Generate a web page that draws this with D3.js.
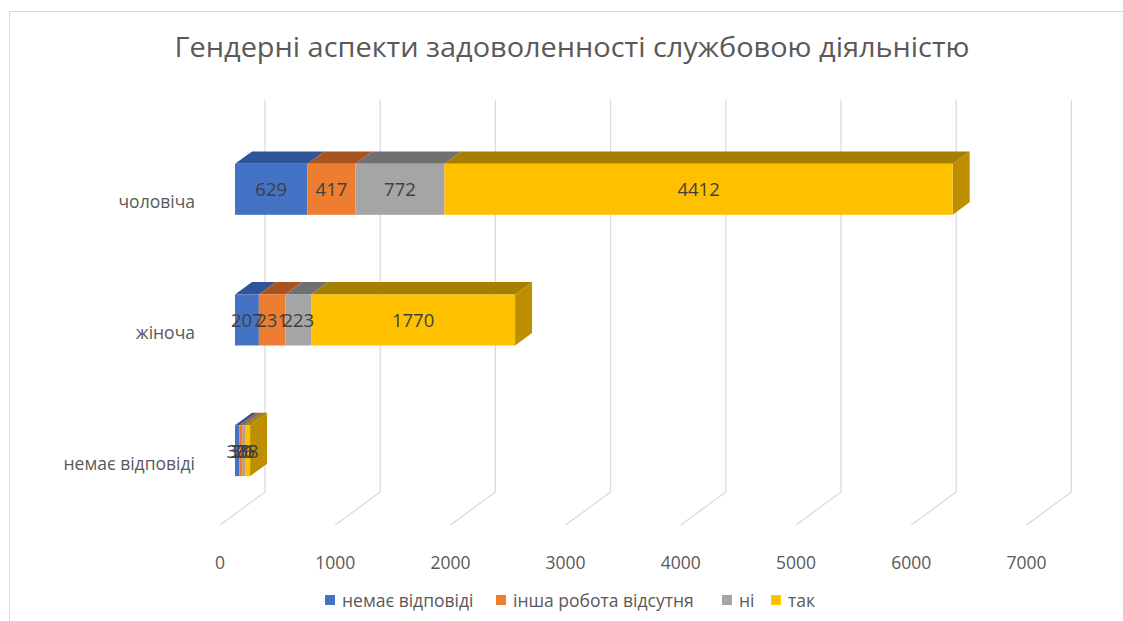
<!DOCTYPE html>
<html>
<head>
<meta charset="utf-8">
<script src="https://cdn.jsdelivr.net/npm/d3@7"></script>
<style>
  body { margin: 0; background: #fff; }
  text { font-family: "Open Sans", "Noto Sans", sans-serif; }
</style>
</head>
<body>
<div id="wrapper"></div>
<script>
const categories = ["чоловіча", "жіноча", "немає відповіді"]
const seriesNames = ["немає відповіді", "інша робота відсутня", "ні", "так"]
const seriesColors = ["#4472C4", "#ED7D31", "#A5A5A5", "#FFC000"]
const topColors = ["#2E5597", "#A9531E", "#707070", "#A77F00"]
const sideColors = ["#34589A", "#B05A22", "#7B7B7B", "#BE8F00"]
const values = {
    "немає відповіді": [629, 207, 37],
    "інша робота відсутня": [417, 231, 30],
    "ні": [772, 223, 26],
    "так": [4412, 1770, 38],
}
const tickValues = [0, 1000, 2000, 3000, 4000, 5000, 6000, 7000]

function drawChart() {
    const width = 1123
    const height = 621

    // oblique 3D: full depth offset and the bar's slice of it
    const depth = { dx: 45, dy: -33 }
    const barFront = 1 / 3
    const barBack = 32 / 45

    const svg = d3.select("#wrapper")
        .append("svg")
        .attr("width", width)
        .attr("height", height)

    svg.append("rect")
        .attr("x", 9.5).attr("y", 11.5)
        .attr("width", 1300).attr("height", 800)
        .attr("fill", "none")
        .attr("stroke", "#d9d9d9")

    svg.append("text")
        .attr("x", 572).attr("y", 57)
        .attr("text-anchor", "middle")
        .attr("font-size", 27)
        .attr("fill", "#595959")
        .attr("textLength", 795)
        .attr("lengthAdjust", "spacingAndGlyphs")
        .text("Гендерні аспекти задоволенності службовою діяльністю")

    const xScale = d3.scaleLinear()
        .domain([0, 7000])
        .range([220, 220 + 7 * 115.2])

    const yScale = d3.scaleBand()
        .domain(categories)
        .range([135, 527])

    // gridlines: back wall + floor
    const grid = svg.append("g")
    tickValues.forEach(t => {
        const x0 = xScale(t)
        grid.append("polyline")
            .attr("points", [
                [x0, 525],
                [x0 + depth.dx, 525 + depth.dy],
                [x0 + depth.dx, 133 + depth.dy],
            ].join(" "))
            .attr("fill", "none")
            .attr("stroke", "#d9d9d9")
            .attr("stroke-width", 1.2)
    })

    // tick labels
    svg.append("g").selectAll("text")
        .data(tickValues)
        .join("text")
        .attr("x", d => xScale(d))
        .attr("y", 569)
        .attr("text-anchor", "middle")
        .attr("font-size", 17.5)
        .attr("fill", "#595959")
        .text(d => d)

    // category labels
    svg.append("g").selectAll("text")
        .data(categories)
        .join("text")
        .attr("x", 195)
        .attr("y", d => yScale(d) + yScale.bandwidth() / 2 + 8)
        .attr("text-anchor", "end")
        .attr("font-size", 17.5)
        .attr("fill", "#595959")
        .text(d => d)

    const stack = d3.stack().keys(seriesNames)
    const rows = categories.map((c, i) => {
        const row = { cat: c }
        seriesNames.forEach(s => row[s] = values[s][i])
        return row
    })
    const stacked = stack(rows)

    const fx = barFront * depth.dx, fy = barFront * depth.dy
    const bx = barBack * depth.dx, by = barBack * depth.dy
    const ddx = bx - fx, ddy = by - fy
    const barH = yScale.bandwidth() * 0.39

    const bars = svg.append("g")
    categories.forEach((c, ci) => {
        const yC = yScale(c) + yScale.bandwidth() / 2 + fy
        const top = yC - barH / 2
        const bottom = yC + barH / 2
        stacked.forEach((layer, si) => {
            const d = layer[ci]
            const x0 = xScale(d[0]) + fx
            const x1 = xScale(d[1]) + fx
            const g = bars.append("g")
            if (si === stacked.length - 1) {
                g.append("polygon")
                    .attr("points", [[x1, top], [x1 + ddx, top + ddy], [x1 + ddx, bottom + ddy], [x1, bottom]].join(" "))
                    .attr("fill", sideColors[si])
            }
            g.append("polygon")
                .attr("points", [[x0, top], [x1, top], [x1 + ddx, top + ddy], [x0 + ddx, top + ddy]].join(" "))
                .attr("fill", topColors[si])
            g.append("rect")
                .attr("x", x0).attr("y", top)
                .attr("width", x1 - x0).attr("height", barH)
                .attr("fill", seriesColors[si])
        })
        stacked.forEach((layer, si) => {
            const d = layer[ci]
            const x0 = xScale(d[0]) + fx
            const x1 = xScale(d[1]) + fx
            bars.append("text")
                .attr("x", (x0 + x1) / 2)
                .attr("y", yC + 7)
                .attr("text-anchor", "middle")
                .attr("font-size", 18.5)
                .attr("fill", "#404040")
                .text(d.data[seriesNames[si]])
        })
    })

    // legend
    const legendX = [325, 496, 722, 771]
    const legend = svg.append("g")
    seriesNames.forEach((s, i) => {
        legend.append("rect")
            .attr("x", legendX[i]).attr("y", 595)
            .attr("width", 10).attr("height", 10)
            .attr("fill", seriesColors[i])
        legend.append("text")
            .attr("x", legendX[i] + 17).attr("y", 607)
            .attr("font-size", 17.5)
            .attr("fill", "#595959")
            .text(s)
    })
}

drawChart()
</script>
</body>
</html>
